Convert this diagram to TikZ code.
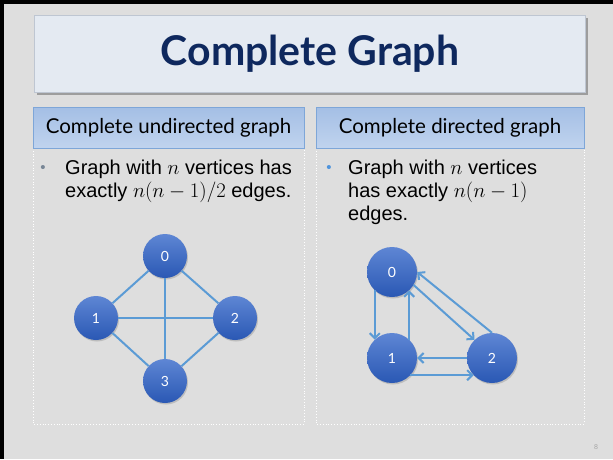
\documentclass[tikz,border=0pt]{standalone}
\usepackage{amsmath}
\usepackage{fontspec}
\setmainfont{Liberation Sans}
\newfontfamily\gillfont{Lato}
\usepackage{tikz}
\usetikzlibrary{arrows.meta, shadows, calc}
\definecolor{slidegray}{RGB}{222,222,222}
\definecolor{titlefill}{RGB}{228,234,242}
\definecolor{titleline}{RGB}{190,198,210}
\definecolor{titleblue}{RGB}{14,40,94}
\definecolor{headtop}{RGB}{164,191,229}
\definecolor{headbottom}{RGB}{192,211,238}
\definecolor{headline}{RGB}{126,166,216}
\definecolor{vtop}{RGB}{94,134,212}
\definecolor{vbottom}{RGB}{42,88,180}
\definecolor{edgeblue}{RGB}{91,155,213}
\definecolor{bulletblue}{RGB}{79,148,220}
\definecolor{bulletgray}{RGB}{120,134,150}
\tikzstyle{title} = [rectangle, draw=titleline, fill=titlefill, minimum width=551pt, minimum height=77pt, text=titleblue, font=\gillfont\bfseries\fontsize{41}{45}\selectfont, drop shadow={shadow xshift=2pt, shadow yshift=-2pt, fill=black!55, opacity=0.6}]
\tikzstyle{header} = [rectangle, draw=headline, top color=headtop, bottom color=headbottom, minimum height=41pt, inner sep=0pt, font=\gillfont\fontsize{20.5}{25}\selectfont]
\tikzstyle{vertex} = [circle, inner sep=0pt, top color=vtop, bottom color=vbottom, text=white, font=\gillfont\fontsize{14}{16}\selectfont, drop shadow={shadow xshift=1pt, shadow yshift=-1.5pt, opacity=0.35}]
\tikzstyle{bullettext} = [anchor=north west, align=left, inner sep=0pt, font=\fontsize{20}{23}\selectfont]
\tikzstyle{edge} = [edgeblue, line width=2pt]
\tikzstyle{arrow} = [edge, -{Straight Barb[length=5pt, width=10pt]}]
\tikzstyle{panel} = [white, dotted, line width=0.8pt]

\begin{document}
\begin{tikzpicture}[x=1pt, y=-1pt]
		\useasboundingbox (0,0) rectangle (613,459);
		\fill[slidegray] (0,0) rectangle (613,459);
		\fill[black] (0,0) rectangle (613,4);
		\fill[black] (0,0) rectangle (4,459);

		\node (Title) [title] at (310,54) {Complete Graph};

		% panels
		\draw[panel] (33,148) rectangle (304,424);
		\draw[panel] (316,148) rectangle (584,424);
		\node (HeadUndirected) [header, minimum width=271pt] at (168.5,127.5) {Complete undirected graph};
		\node (HeadDirected) [header, minimum width=268pt] at (450,127.5) {Complete directed graph};

		\node (BulletLeft) [text=bulletgray, font=\fontsize{15}{15}\selectfont] at (43,169) {\textbullet};
		\node (TextLeft) [bullettext] at (65,160) {Graph with $n$ vertices has\\exactly $n(n-1)/2$ edges.};
		\node (BulletRight) [text=bulletblue, font=\fontsize{15}{15}\selectfont] at (329,169) {\textbullet};
		\node (TextRight) [bullettext] at (348,160) {Graph with $n$ vertices\\has exactly $n(n-1)$\\edges.};

		% undirected graph
		\node (UZero) [vertex, minimum size=44pt] at (165,256) {0};
		\node (UOne) [vertex, minimum size=44pt] at (96,318) {1};
		\node (UTwo) [vertex, minimum size=44pt] at (235,318) {2};
		\node (UThree) [vertex, minimum size=44pt] at (165,381) {3};
		\draw [edge] (UZero) -- (UOne);
		\draw [edge] (UZero) -- (UTwo);
		\draw [edge] (UZero) -- (UThree);
		\draw [edge] (UOne) -- (UTwo);
		\draw [edge] (UOne) -- (UThree);
		\draw [edge] (UTwo) -- (UThree);

		% directed graph
		\node (DZero) [vertex, minimum size=50pt] at (392,272) {0};
		\node (DOne) [vertex, minimum size=50pt] at (392,358) {1};
		\node (DTwo) [vertex, minimum size=50pt] at (492,358) {2};
		\draw [arrow] (DZero.227) -- (DOne.133);
		\draw [arrow] (DOne.47) -- (DZero.313);
		\draw [arrow] (DZero.-31) -- (DTwo.134);
		\draw [arrow] (DTwo.north) -- (DZero.east);
		\draw [arrow] (DTwo.west) -- (DOne.east);
		\draw [arrow] (DOne.-43) -- (DTwo.-137);

		\node (PageNum) [text=black!35, font=\fontsize{7}{7}\selectfont] at (596,447) {8};
\end{tikzpicture}
\end{document}
